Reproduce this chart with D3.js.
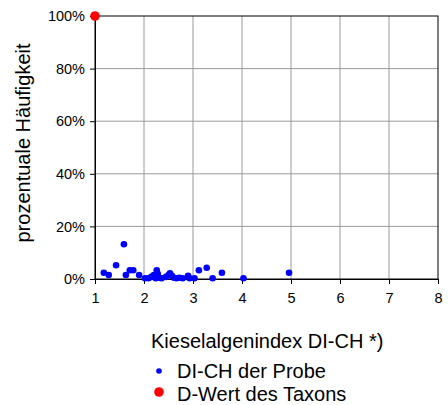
<!DOCTYPE html>
<html>
<head>
<meta charset="utf-8">
<script src="https://cdn.jsdelivr.net/npm/d3@7"></script>
<style>
  body { margin: 0; background: #fff; }
  svg { font-family: "Liberation Sans", Arial, sans-serif; }
</style>
</head>
<body>
<svg id="chart" width="448" height="405"></svg>
<script>
// DI-CH der Probe: index value and percentage frequency
const probeIndex = [1.18, 1.28, 1.43, 1.59, 1.63, 1.71, 1.78, 1.90, 2.02, 2.09,
  2.15, 2.20, 2.24, 2.26, 2.28, 2.32, 2.36, 2.45, 2.50, 2.53,
  2.57, 2.61, 2.66, 2.72, 2.79, 2.90, 2.93, 3.03, 3.12, 3.28,
  3.40, 3.59, 4.03, 4.96];
const probePercent = [2.4, 1.5, 5.2, 13.2, 1.5, 3.3, 3.3, 1.5, 0.3, 0.3,
  0.8, 1.5, 0.3, 3.3, 2.0, 0.5, 0.3, 0.8, 1.5, 2.2,
  1.2, 0.5, 0.3, 0.5, 0.3, 1.2, 0.3, 0.3, 3.3, 4.3,
  0.3, 2.4, 0.3, 2.4];

// D-Wert des Taxons
const taxonIndex = [1];
const taxonPercent = [100];

const xTicks = [1, 2, 3, 4, 5, 6, 7, 8];
const yTicks = [0, 20, 40, 60, 80, 100];

const margin = { left: 95, right: 10, top: 16, bottom: 126 };
const width = 448 - margin.left - margin.right;
const height = 405 - margin.top - margin.bottom;

const svg = d3.select("#chart");
const g = svg.append("g").attr("transform", `translate(${margin.left},${margin.top})`);

const x = d3.scaleLinear().domain([1, 8]).range([0, width]);
const y = d3.scaleLinear().domain([0, 100]).range([height, 0]);

// grid
g.selectAll(".vgrid").data(xTicks.slice(1, -1)).enter().append("line")
  .attr("x1", d => x(d)).attr("x2", d => x(d))
  .attr("y1", 0).attr("y2", height)
  .attr("stroke", "#9a9a9a").attr("stroke-width", 1);
g.selectAll(".hgrid").data(yTicks.slice(1, -1)).enter().append("line")
  .attr("x1", 0).attr("x2", width)
  .attr("y1", d => y(d)).attr("y2", d => y(d))
  .attr("stroke", "#9a9a9a").attr("stroke-width", 1);

// frame
g.append("rect").attr("width", width).attr("height", height)
  .attr("fill", "none").attr("stroke", "#000").attr("stroke-width", 1);

const xAxis = g.append("g").attr("transform", `translate(0,${height})`)
  .call(d3.axisBottom(x).tickValues(xTicks).tickSize(5).tickFormat(d3.format("d")));
const yAxis = g.append("g")
  .call(d3.axisLeft(y).tickValues(yTicks).tickSize(5).tickFormat(d => d + "%"));

[xAxis, yAxis].forEach(a => {
  a.select(".domain").attr("stroke", "#000");
  a.selectAll(".tick line").attr("stroke", "#000");
  a.selectAll("text").attr("fill", "#000").style("font-size", "14.5px")
    .style("font-family", "'Liberation Sans', Arial, sans-serif");
});
xAxis.selectAll("text").attr("dy", "0.71em").attr("y", 13.5);
yAxis.selectAll("text").attr("x", -10);

// points
g.selectAll(".probe").data(probeIndex).enter().append("circle")
  .attr("cx", d => x(d)).attr("cy", (d, i) => y(probePercent[i]))
  .attr("r", 3.3).attr("fill", "#0000ff");
g.selectAll(".taxon").data(taxonIndex).enter().append("circle")
  .attr("cx", d => x(d)).attr("cy", (d, i) => y(taxonPercent[i]))
  .attr("r", 4.8).attr("fill", "#ff0000");

// titles
svg.append("text")
  .attr("transform", `translate(30,143) rotate(-90)`)
  .attr("text-anchor", "middle")
  .style("font-size", "20px").text("prozentuale Häufigkeit");
svg.append("text")
  .attr("x", 151).attr("y", 348)
  .style("font-size", "20px").text("Kieselalgenindex DI-CH *)");

// legend
const legend = svg.append("g");
legend.append("circle").attr("cx", 159).attr("cy", 371).attr("r", 2.8).attr("fill", "#0000ff");
legend.append("text").attr("x", 177).attr("y", 378).style("font-size", "20px").text("DI-CH der Probe");
legend.append("circle").attr("cx", 159).attr("cy", 392).attr("r", 4.8).attr("fill", "#ff0000");
legend.append("text").attr("x", 177).attr("y", 401).style("font-size", "20px").text("D-Wert des Taxons");
</script>
</body>
</html>
